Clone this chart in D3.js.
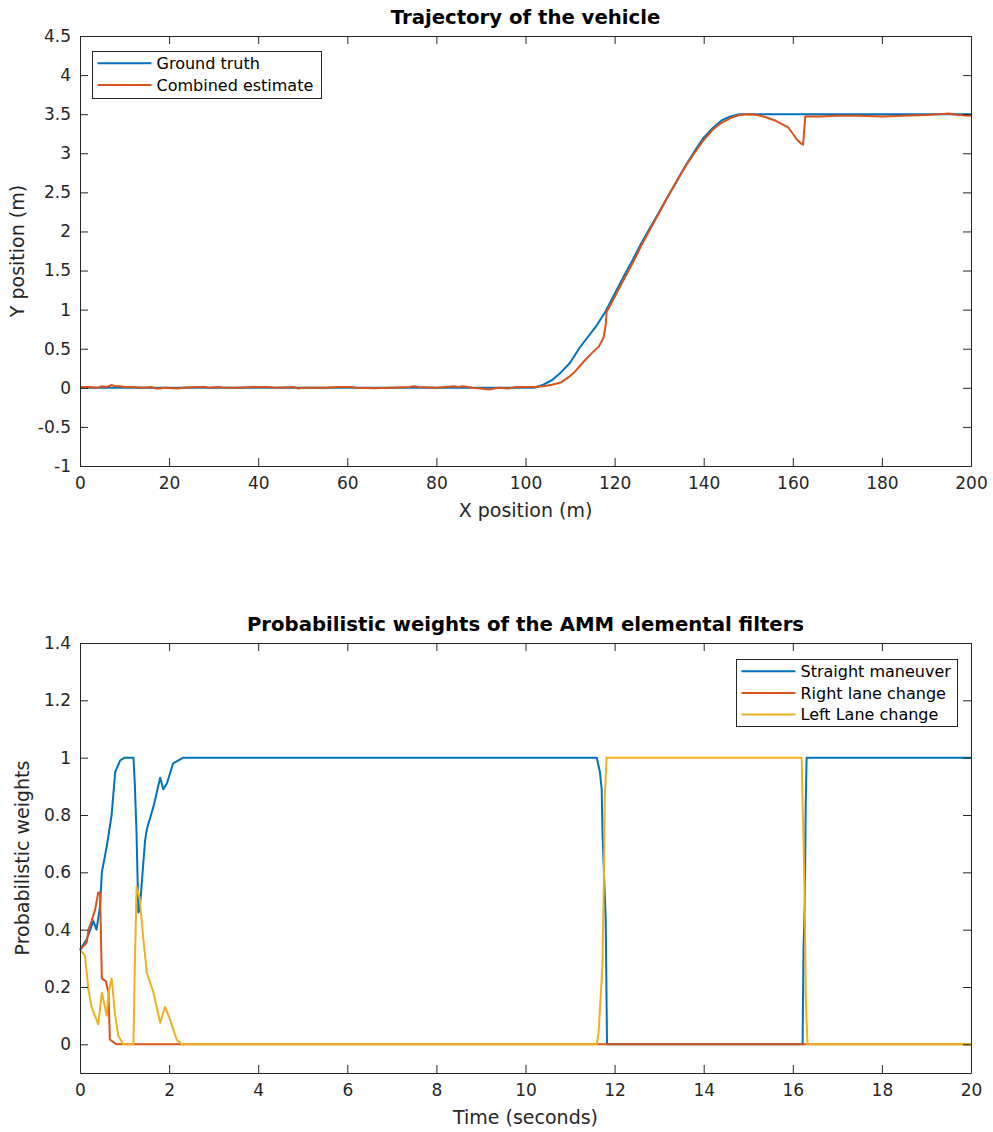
<!DOCTYPE html>
<html lang="en">
<head>
    <meta charset="UTF-8">
    <title>Trajectory and AMM weights</title>
    <style>
        body {
            margin: 0;
            background: #ffffff;
            font-family: "DejaVu Sans", sans-serif;
        }
        .axis path, .axis line {
            stroke: #262626;
            stroke-width: 1px;
        }
        .axis text {
            font-size: 17px;
            fill: #262626;
            font-family: "DejaVu Sans", sans-serif;
        }
        .title {
            font-size: 19.7px;
            font-weight: bold;
            fill: #000;
        }
        .label {
            font-size: 19px;
            fill: #262626;
        }
        .legend text {
            font-size: 16px;
            fill: #000;
        }
        .series {
            fill: none;
            stroke-width: 2px;
            stroke-linejoin: round;
        }
    </style>
</head>
<body>
    <div id="chart"></div>
    <script src="https://d3js.org/d3.v7.min.js"></script>
    <script>
        // ---- top plot data: [x (m), y (m)]
        const groundTruth = [
            [0, 0], [102, 0], [104, 0.04], [106, 0.1], [108, 0.2], [110, 0.32], [112, 0.5],
            [114, 0.65], [116, 0.8], [118, 0.98], [120, 1.2], [122, 1.42], [124, 1.63],
            [126, 1.85], [128, 2.05], [130, 2.25], [132, 2.45], [134, 2.65], [136, 2.85],
            [138, 3.03], [140, 3.2], [142, 3.32], [144, 3.42], [146, 3.47], [148, 3.5], [200, 3.5]
        ];
        const combinedEstimate = [
            [0, 0.01], [2, 0.01], [4, 0], [5, 0.02], [6, 0.01], [7, 0.035], [8, 0.02], [9, 0.02],
            [10, 0.01], [12, 0.01], [14, 0], [16, 0.01], [17, -0.01], [18, -0.01], [19, 0],
            [22, -0.01], [23, 0], [26, 0.01], [28, 0.01], [29, 0], [31, 0.01], [32, 0.005],
            [35, 0], [39, 0.01], [42, 0.01], [44, 0], [48, 0.01], [49, -0.01], [50, 0], [55, 0],
            [58, 0.01], [61, 0.01], [62, 0], [66, -0.005], [70, 0], [74, 0.01], [75, 0.02],
            [76, 0.01], [80, 0], [82, 0.01], [84, 0.02], [85, 0.01], [86, 0.02], [88, 0],
            [90, -0.01], [92, -0.02], [94, 0], [96, -0.01], [98, 0.01], [100, 0.01], [102, 0.01],
            [104, 0.02], [106, 0.04], [108, 0.07], [110, 0.15], [111, 0.2], [113, 0.33],
            [115, 0.45], [116.5, 0.53], [117.5, 0.64], [118, 0.8], [118.2, 0.97], [120, 1.16],
            [122, 1.38], [124, 1.59], [126, 1.82], [128, 2.03], [130, 2.24], [132, 2.45],
            [134, 2.65], [136, 2.84], [138, 3.01], [140, 3.17], [142, 3.3], [144, 3.39],
            [146, 3.45], [148, 3.49], [150, 3.5], [152, 3.49], [154, 3.46], [156, 3.42],
            [158, 3.36], [159, 3.33], [160, 3.25], [161, 3.17], [162, 3.12], [162.3, 3.11],
            [162.8, 3.47], [164, 3.47], [166, 3.47], [170, 3.48], [175, 3.48], [180, 3.47],
            [185, 3.48], [190, 3.49], [193, 3.5], [195, 3.51], [197, 3.49], [200, 3.48]
        ];
        const topXTicks = [0, 20, 40, 60, 80, 100, 120, 140, 160, 180, 200];
        const topYTicks = [-1, -0.5, 0, 0.5, 1, 1.5, 2, 2.5, 3, 3.5, 4, 4.5];

        // ---- bottom plot data: [time (s), weight]
        const straightManeuver = [
            [0, 0.33], [0.15, 0.366], [0.3, 0.43], [0.37, 0.4], [0.45, 0.48], [0.49, 0.6],
            [0.6, 0.69], [0.71, 0.8], [0.79, 0.95], [0.9, 0.99], [1.0, 1.0], [1.2, 1.0],
            [1.23, 0.91], [1.27, 0.73], [1.31, 0.46], [1.34, 0.47], [1.46, 0.71], [1.5, 0.75],
            [1.65, 0.83], [1.8, 0.93], [1.87, 0.89], [1.95, 0.91], [2.09, 0.98], [2.32, 1.0],
            [11.6, 1.0], [11.67, 0.95], [11.71, 0.89], [11.73, 0.73], [11.77, 0.56], [11.8, 0.44],
            [11.82, 0.145], [11.83, 0], [16.22, 0], [16.24, 0.33], [16.27, 0.5], [16.29, 0.84],
            [16.31, 1.0], [20, 1.0]
        ];
        const rightLaneChange = [
            [0, 0.33], [0.15, 0.355], [0.19, 0.4], [0.26, 0.43], [0.34, 0.47], [0.41, 0.53],
            [0.45, 0.53], [0.49, 0.23], [0.58, 0.22], [0.64, 0.18], [0.67, 0.017], [0.82, 0],
            [20, 0]
        ];
        const leftLaneChange = [
            [0, 0.33], [0.11, 0.31], [0.19, 0.19], [0.26, 0.13], [0.41, 0.07], [0.49, 0.18],
            [0.56, 0.13], [0.6, 0.1], [0.64, 0.18], [0.71, 0.23], [0.79, 0.1], [0.86, 0.03],
            [0.97, 0], [1.2, 0], [1.23, 0.27], [1.27, 0.55], [1.34, 0.51], [1.42, 0.37],
            [1.5, 0.25], [1.65, 0.18], [1.8, 0.075], [1.91, 0.13], [2.02, 0.087], [2.17, 0.017],
            [2.28, 0], [11.6, 0], [11.64, 0.04], [11.67, 0.12], [11.73, 0.28], [11.76, 0.58],
            [11.78, 0.86], [11.82, 1.0], [16.2, 1.0], [16.22, 0.84], [16.27, 0.5], [16.29, 0.17],
            [16.33, 0], [20, 0]
        ];
        const bottomXTicks = [0, 2, 4, 6, 8, 10, 12, 14, 16, 18, 20];
        const bottomYTicks = [0, 0.2, 0.4, 0.6, 0.8, 1, 1.2, 1.4];

        const colors = ["#0072bd", "#d95319", "#edb120"];

        const width = 993;
        const height = 1132;

        const svg = d3.select("#chart")
            .append("svg")
            .attr("width", width)
            .attr("height", height);

        function drawPanel(opts) {
            const { top, bottom, xDomain, yDomain, xTicks, yTicks, series, title,
                    xLabel, yLabel, yLabelX, legend } = opts;
            const left = 80, right = 971;
            const x = d3.scaleLinear().domain(xDomain).range([left, right]);
            const y = d3.scaleLinear().domain(yDomain).range([bottom, top]);
            const fmt = d => String(d);
            const g = svg.append("g");

            // lines first, axes on top
            const line = d3.line().x(d => x(d[0])).y(d => y(d[1]));
            series.forEach((s, i) => {
                g.append("path")
                    .attr("class", "series")
                    .attr("stroke", colors[i])
                    .attr("d", line(s.values));
            });

            g.append("g").attr("class", "axis")
                .attr("transform", `translate(0,${bottom})`)
                .call(d3.axisBottom(x).tickValues(xTicks).tickFormat(fmt)
                    .tickSizeInner(-8).tickSizeOuter(0).tickPadding(11));
            g.append("g").attr("class", "axis")
                .attr("transform", `translate(0,${top})`)
                .call(d3.axisTop(x).tickValues(xTicks).tickFormat("")
                    .tickSizeInner(-8).tickSizeOuter(0));
            g.append("g").attr("class", "axis")
                .attr("transform", `translate(${left},0)`)
                .call(d3.axisLeft(y).tickValues(yTicks).tickFormat(fmt)
                    .tickSizeInner(-8).tickSizeOuter(0).tickPadding(9));
            g.append("g").attr("class", "axis")
                .attr("transform", `translate(${right},0)`)
                .call(d3.axisRight(y).tickValues(yTicks).tickFormat("")
                    .tickSizeInner(-8).tickSizeOuter(0));
            g.selectAll(".axis text").attr("font-family", null).attr("font-size", null);

            g.append("text").attr("class", "title")
                .attr("x", (left + right) / 2).attr("y", top - 12)
                .attr("text-anchor", "middle").text(title);
            g.append("text").attr("class", "label")
                .attr("x", (left + right) / 2).attr("y", bottom + 51)
                .attr("text-anchor", "middle").text(xLabel);
            g.append("text").attr("class", "label")
                .attr("transform", `translate(${yLabelX},${(top + bottom) / 2}) rotate(-90)`)
                .attr("text-anchor", "middle").text(yLabel);

            // legend
            const lg = g.append("g").attr("class", "legend");
            lg.append("rect")
                .attr("x", legend.x).attr("y", legend.y)
                .attr("width", legend.w).attr("height", legend.h)
                .attr("fill", "#fff").attr("stroke", "#262626").attr("stroke-width", 1);
            series.forEach((s, i) => {
                const ly = legend.y + 11.7 + i * 21.7;
                lg.append("line")
                    .attr("x1", legend.x + 5).attr("x2", legend.x + 59)
                    .attr("y1", ly).attr("y2", ly)
                    .attr("stroke", colors[i]).attr("stroke-width", 2);
                lg.append("text")
                    .attr("x", legend.x + 64).attr("y", ly)
                    .attr("dy", "0.35em").text(s.name);
            });
        }

        drawPanel({
            top: 36, bottom: 466,
            xDomain: [0, 200], yDomain: [-1, 4.5],
            xTicks: topXTicks, yTicks: topYTicks,
            series: [
                { name: "Ground truth", values: groundTruth },
                { name: "Combined estimate", values: combinedEstimate }
            ],
            title: "Trajectory of the vehicle",
            xLabel: "X position (m)",
            yLabel: "Y position (m)",
            yLabelX: 24,
            legend: { x: 92.5, y: 51.5, w: 229, h: 47 }
        });

        drawPanel({
            top: 643, bottom: 1073,
            xDomain: [0, 20], yDomain: [-0.1, 1.4],
            xTicks: bottomXTicks, yTicks: bottomYTicks,
            series: [
                { name: "Straight maneuver", values: straightManeuver },
                { name: "Right lane change", values: rightLaneChange },
                { name: "Left Lane change", values: leftLaneChange }
            ],
            title: "Probabilistic weights of the AMM elemental filters",
            xLabel: "Time (seconds)",
            yLabel: "Probabilistic weights",
            yLabelX: 29,
            legend: { x: 736.5, y: 659.5, w: 221, h: 67 }
        });
    </script>
</body>
</html>
